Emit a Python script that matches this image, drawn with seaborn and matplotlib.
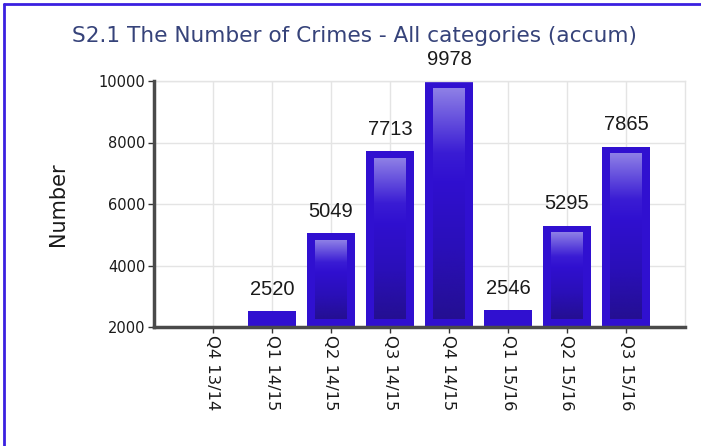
import numpy as np
import pandas as pd
import matplotlib
matplotlib.use("Agg")
import matplotlib.pyplot as plt
from matplotlib.colors import LinearSegmentedColormap
import seaborn as sns

categories = ["Q4 13/14", "Q1 14/15", "Q2 14/15", "Q3 14/15", "Q4 14/15",
              "Q1 15/16", "Q2 15/16", "Q3 15/16"]
values = [0, 2520, 5049, 7713, 9978, 2546, 5295, 7865]
yticks = [2000, 4000, 6000, 8000, 10000]
title = "S2.1 The Number of Crimes - All categories (accum)"
ylabel = "Number"

sns.set_theme(style="white")
plt.rcParams["font.family"] = ["DejaVu Sans"]

df = pd.DataFrame({"cat": categories, "val": values})

fig = plt.figure(figsize=(7.01, 4.46), dpi=100)
ax = fig.add_axes([154/701, 1-327/446, (685-154)/701, (327-81)/446])

bar_color = "#3010d0"
sns.barplot(data=df, x="cat", y="val", order=categories, color=bar_color,
            saturation=1, width=0.8, ax=ax, edgecolor="none", zorder=2)

ymin, ymax = 2000, 10000
ax.set_ylim(ymin, ymax)
ax.set_xlim(-1, 8)

# gradient inner fill
cmap = LinearSegmentedColormap.from_list("g", [
    (0.0, "#240f92"), (0.3, "#2a0fb8"), (0.6, "#3010d0"),
    (0.72, "#3a1cd4"), (1.0, "#8e80e6")])
grad = np.linspace(0, 1, 256).reshape(-1, 1)
px_x = 58.9
px_y = 246 / (ymax - ymin)
inset_px = 7.6
dx = inset_px / px_x
dy = inset_px / px_y
for p in ax.patches:
    x0 = p.get_x()
    w = p.get_width()
    h = p.get_height()
    top = h - dy
    bot = ymin + dy
    if top - bot > 2 * dy:
        ax.imshow(grad, extent=(x0 + dx, x0 + w - dx, bot, top), origin="lower",
                  cmap=cmap, aspect="auto", zorder=3, interpolation="bilinear")

for i, v in enumerate(values):
    if v > ymin:
        ax.annotate(f"{v}", (i, v), xytext=(0, 9), textcoords="offset points",
                    ha="center", va="bottom", fontsize=14.5,
                    family="Liberation Sans", color="#1a1a1a", zorder=5)

ax.set_xlim(-1, 8)
ax.set_ylim(ymin, ymax)
ax.set_yticks(yticks)
ax.set_yticklabels([str(t) for t in yticks], fontsize=10.5, color="#1a1a1a")
ax.set_xticks(range(len(categories)))
ax.set_xticklabels(categories, rotation=-90, fontsize=11.8, color="#1a1a1a")

ax.grid(True, color="#e4e4e4", linewidth=1, zorder=0)
ax.set_axisbelow(True)
for s in ["top", "right"]:
    ax.spines[s].set_visible(True)
    ax.spines[s].set_color("#e4e4e4")
    ax.spines[s].set_linewidth(1)
for s in ["left", "bottom"]:
    ax.spines[s].set_color("#4a4a4a")
    ax.spines[s].set_linewidth(2.5)
    ax.spines[s].set_zorder(6)
ax.tick_params(axis="both", which="both", length=4, width=1, color="#333333",
               direction="out", left=True, bottom=True, pad=2)

ax.set_xlabel("")
ax.set_ylabel(ylabel, fontsize=15, color="#1a1a1a", labelpad=22)

fig.text(354/701, 1 - 36/446, title, ha="center", va="center",
         fontsize=15.6, color="#36437a")

# figure border (top and left)
fig.add_artist(plt.Line2D([4/701, 4/701], [0, 1 - 4/446], transform=fig.transFigure,
                          color="#3a20e0", linewidth=2))
fig.add_artist(plt.Line2D([4/701, 1], [1 - 4/446, 1 - 4/446], transform=fig.transFigure,
                          color="#3a20e0", linewidth=2))

fig.savefig("out.png", dpi=100)
